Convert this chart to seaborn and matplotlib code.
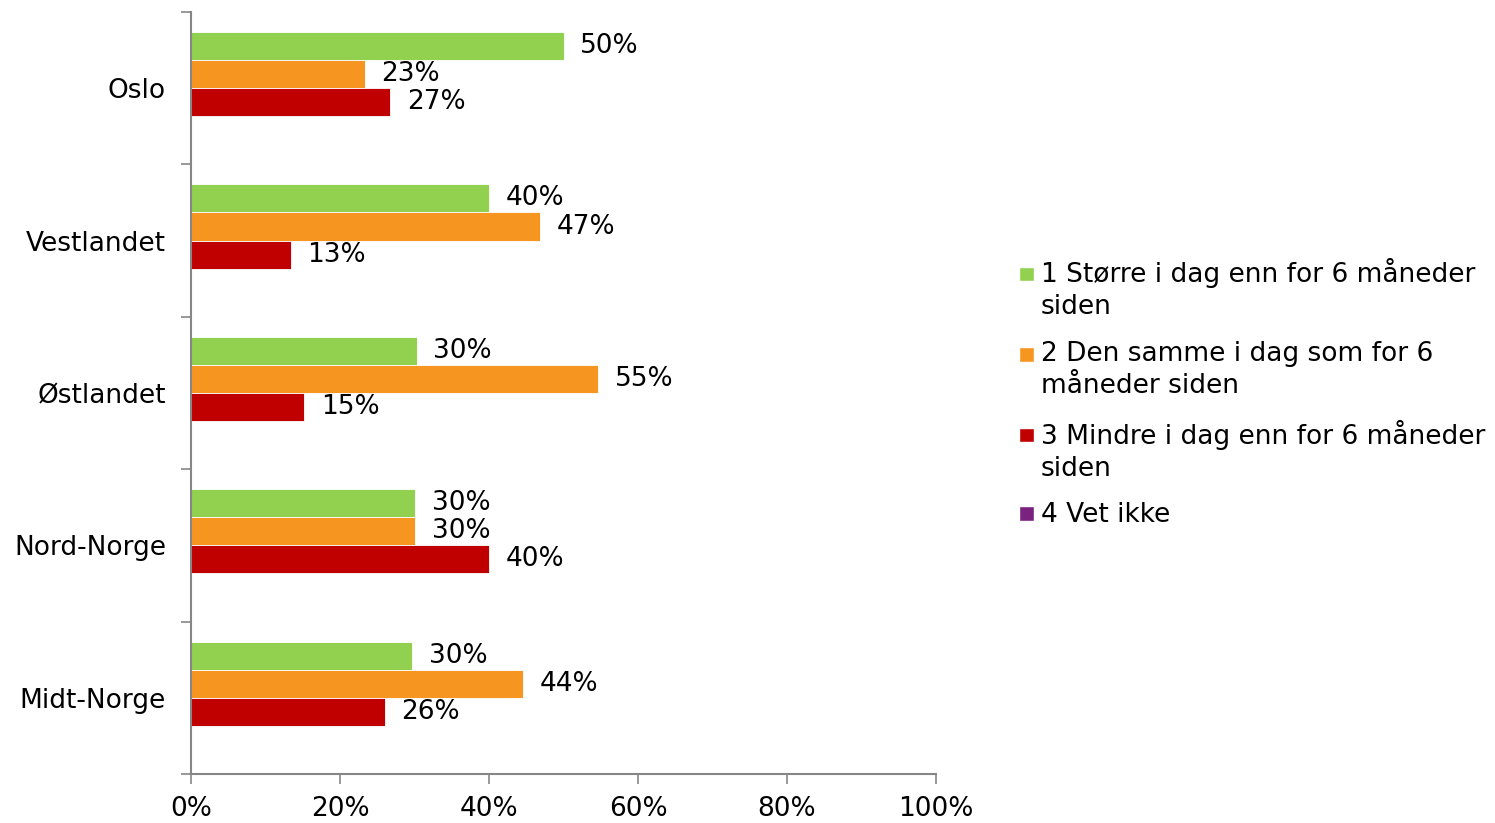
import pandas as pd
import matplotlib.pyplot as plt
import seaborn as sns
from matplotlib.patches import Rectangle
from matplotlib.legend_handler import HandlerPatch

# data (share of respondents)
regions = ['Oslo', 'Vestlandet', 'Østlandet', 'Nord-Norge', 'Midt-Norge']
series = ['1 Større i dag enn for 6 måneder\nsiden',
          '2 Den samme i dag som for 6\nmåneder siden',
          '3 Mindre i dag enn for 6 måneder\nsiden',
          '4 Vet ikke']
storre = [0.50, 0.40, 0.303, 0.301, 0.297]
samme = [0.233, 0.468, 0.546, 0.301, 0.445]
mindre = [0.267, 0.134, 0.152, 0.40, 0.26]
vet_ikke = [0, 0, 0, 0, 0]
colors = ['#92D050', '#F79521', '#C00000', '#7B2180']

rows = []
for s, vals in zip(series, [storre, samme, mindre, vet_ikke]):
    for r, v in zip(regions, vals):
        rows.append({'Region': r, 'Serie': s, 'Andel': v})
df = pd.DataFrame(rows)

sns.set_style('white')
plt.rcParams['font.family'] = ['DejaVu Sans']
plt.rcParams['text.color'] = 'black'
plt.rcParams['xtick.color'] = 'black'
plt.rcParams['ytick.color'] = 'black'
FS = 19

fig = plt.figure(figsize=(14.95, 8.23), dpi=100)
ax = fig.add_axes([0.1278, 0.0595, 0.4983, 0.926])

sns.barplot(data=df, y='Region', x='Andel', hue='Serie', orient='h',
            palette=colors, saturation=1, width=0.737, ax=ax,
            edgecolor='white', linewidth=0.6, errorbar=None, legend=False)

# percentage labels, skip empty bars
for cont in ax.containers:
    labels = [f'{w*100:.0f}%' if w > 0 else '' for w in cont.datavalues]
    ax.bar_label(cont, labels=labels, padding=12, fontsize=FS, color='black')

ax.set_xlim(0, 1)
ax.set_ylim(4.5, -0.5)
ax.set_xticks([0, 0.2, 0.4, 0.6, 0.8, 1.0])
ax.set_xticklabels(['0%', '20%', '40%', '60%', '80%', '100%'], fontsize=FS)
ax.set_yticks(range(len(regions)))
ax.set_yticklabels(regions, fontsize=FS)
ax.set_yticks([i + 0.5 for i in range(-1, len(regions))], minor=True)
ax.tick_params(axis='y', which='major', length=0, pad=18)
ax.tick_params(axis='y', which='minor', length=7, color='#868686', width=1.2,
               direction='out', left=True)
ax.tick_params(axis='x', length=7, color='#868686', width=1.2,
               direction='out', bottom=True, pad=9)
ax.set_xlabel('')
ax.set_ylabel('')
for side in ['top', 'right']:
    ax.spines[side].set_visible(False)
for side in ['left', 'bottom']:
    ax.spines[side].set_color('#868686')
    ax.spines[side].set_linewidth(1.5)


# legend squares sit next to the first line of a wrapped label
def square(legend, orig_handle, xdescent, ydescent, width, height, fontsize):
    shift = 0.64 * fontsize if '\n' in orig_handle.get_label() else 0
    return Rectangle((-xdescent, -ydescent + shift), width, width)


handles = [Rectangle((0, 0), 1, 1, facecolor=c, label=s)
           for c, s in zip(colors, series)]
leg = fig.legend(handles=handles, loc='upper left',
                 bbox_to_anchor=(0.6816, 0.686),
                 bbox_transform=fig.transFigure, frameon=False, fontsize=FS,
                 handlelength=0.55, handleheight=0.55, handletextpad=0.28,
                 labelspacing=0.78, borderpad=0, borderaxespad=0,
                 handler_map={Rectangle: HandlerPatch(patch_func=square)})
for t in leg.get_texts():
    t.set_linespacing(1.3)

fig.savefig('out.png', dpi=100)
